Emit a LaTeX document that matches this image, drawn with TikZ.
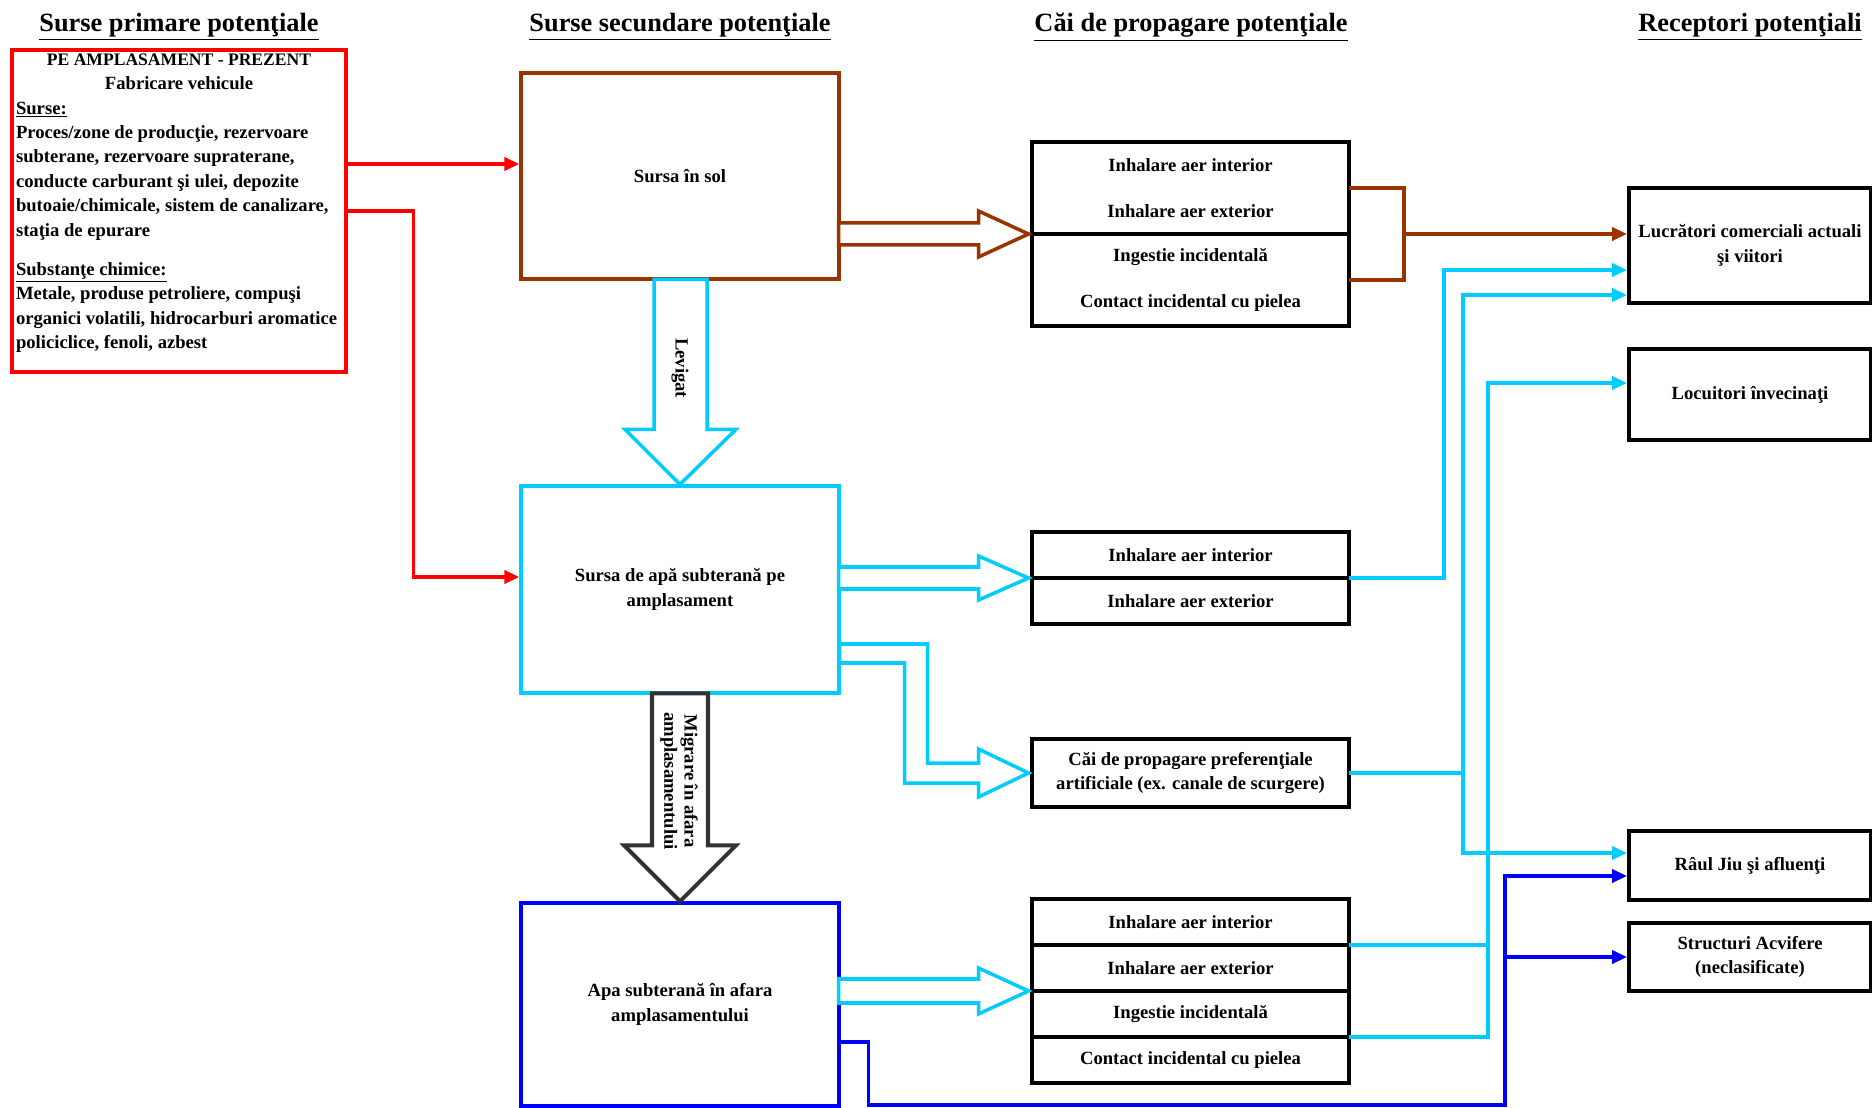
\documentclass[tikz,border=0pt]{standalone}
\usepackage{fontspec}
\setmainfont{Liberation Serif}
\usepackage{xcolor}
\usepackage{tikz}
\usetikzlibrary{arrows.meta,positioning,calc}
\definecolor{brn}{RGB}{153,51,0}
\definecolor{sky}{RGB}{0,204,255}
\definecolor{dgrey}{RGB}{51,51,51}

\begin{document}
\begin{tikzpicture}[
  x=0.02cm, y=-0.02cm,
  every node/.style={font=\fontsize{10.6}{13.9}\selectfont\bfseries},
  colhead/.style={font=\fontsize{15}{18}\selectfont\bfseries},
  srcbox/.style={draw, line width=1.9pt, minimum width=6.36cm, minimum height=4.12cm, align=center},
  pathbox/.style={draw, line width=2.2pt, outer sep=0pt, minimum width=6.34cm, minimum height=0.92cm, align=center, inner sep=1pt},
  recbox/.style={draw, line width=2.2pt, minimum width=4.84cm, align=center, inner sep=1pt},
  conn/.style={line width=2pt},
  conarr/.style={conn, -{Triangle[length=0.3cm, width=0.26cm]}},
  hollow/.style={line width=2pt, fill=white, line join=miter}
]
\useasboundingbox (0,0) rectangle (1872,1108);

% column headings
\node[colhead] (hdprim) at (179,27) {\underline{Surse primare potenţiale}};
\node[colhead] (hdsec) at (680,27) {\underline{Surse secundare potenţiale}};
\node[colhead] (hdcai) at (1191,27) {\underline{Căi de propagare potenţiale}};
\node[colhead] (hdrec) at (1750,27) {\underline{Receptori potenţiali}};

% primary source
\node[draw=red, line width=2pt, inner sep=0pt, minimum width=6.68cm, minimum height=6.44cm] (prim) at (179,211)
  {\parbox[c][6.3cm][t]{6.52cm}{%
    {\centering\fontsize{10}{13.9}\selectfont PE AMPLASAMENT - PREZENT\\
     \fontsize{10.6}{13.9}\selectfont Fabricare vehicule\par}
    \raggedright
    \underline{Surse:}\\
    Proces/zone de producţie, rezervoare\\
    subterane, rezervoare supraterane,\\
    conducte carburant şi ulei, depozite\\
    butoaie/chimicale, sistem de canalizare,\\
    staţia de epurare\\[8.5pt]
    \underline{Substanţe chimice:}\\
    Metale, produse petroliere, compuşi\\
    organici volatili, hidrocarburi aromatice\\
    policiclice, fenoli, azbest}};

% secondary sources
\node[srcbox, draw=brn] (sol) at (680,176) {Sursa în sol};
\node[srcbox, draw=sky, minimum height=4.14cm] (apasit) at (680,589.5) {Sursa de apă subterană pe\\amplasament};
\node[srcbox, draw=blue, minimum height=4.06cm] (apaext) at (680,1004.5) {Apa subterană în afara\\amplasamentului};

% pathways
\node[pathbox, minimum height=1.84cm] (path1a) at (1190.5,188) {Inhalare aer interior\\[12.3pt]Inhalare aer exterior};
\node[pathbox, minimum height=1.84cm, below=0pt of path1a] (path1b) {Ingestie incidentală\\[12.3pt]Contact incidental cu pielea};
\node[pathbox] (path2a) at (1190.5,555) {Inhalare aer interior};
\node[pathbox, below=0pt of path2a] (path2b) {Inhalare aer exterior};
\node[pathbox, minimum height=1.36cm] (path3) at (1190.5,773) {Căi de propagare preferenţiale\\artificiale (ex. canale de scurgere)};
\node[pathbox] (path4a) at (1190.5,922) {Inhalare aer interior};
\node[pathbox, below=0pt of path4a] (path4b) {Inhalare aer exterior};
\node[pathbox, below=0pt of path4b] (path4c) {Ingestie incidentală};
\node[pathbox, below=0pt of path4c] (path4d) {Contact incidental cu pielea};

% receptors
\node[recbox, minimum height=2.3cm] (lucr) at (1750,245.5) {Lucrători comerciali actuali\\şi viitori};
\node[recbox, minimum height=1.82cm] (locu) at (1750,394.5) {Locuitori învecinaţi};
\node[recbox, minimum height=1.38cm] (jiu) at (1750,865.5) {Râul Jiu şi afluenţi};
\node[recbox, minimum height=1.36cm] (acvif) at (1750,957) {Structuri Acvifere\\(neclasificate)};

% hollow arrows
\draw[hollow, draw=brn] ([xshift=-2pt]path1a.south west) -- ++(-50,-23) -- ++(0,12) -- ++(-140,0) -- ++(0,22) -- ++(140,0) -- ++(0,12) -- cycle;
\draw[hollow, draw=sky] ([xshift=-2pt]path2a.south west) -- ++(-50,-22) -- ++(0,11) -- ++(-140,0) -- ++(0,22) -- ++(140,0) -- ++(0,11) -- cycle;
\draw[hollow, draw=sky] ([xshift=-2pt]path4b.south west) -- ++(-50,-23) -- ++(0,11) -- ++(-140,0) -- ++(0,24) -- ++(140,0) -- ++(0,11) -- cycle;
\draw[hollow, draw=sky] ([xshift=-2pt]path3.west) -- ++(-50,-24) -- ++(0,14) -- ++(-51,0) -- ++(0,-119) -- ++(-88,0) -- ++(0,19) -- ++(65,0) -- ++(0,120) -- ++(74,0) -- ++(0,14) -- cycle;
\draw[hollow, draw=sky] (apasit.north) -- ++(-55,-55) -- ++(29,0) -- ++(0,-150) -- ++(53,0) -- ++(0,150) -- ++(29,0) -- cycle;
\draw[hollow, draw=dgrey, line width=2.3pt] (apaext.north) -- ++(-56,-56) -- ++(28,0) -- ++(0,-152) -- ++(56,0) -- ++(0,152) -- ++(28,0) -- cycle;
\node[rotate=-90] (levtxt) at (680,368) {Levigat};
\node[rotate=-90, align=center, font=\fontsize{10.6}{11.5}\selectfont\bfseries] (migtxt) at (679,781) {Migrare în afara\\amplasamentului};

% red links
\coordinate (solin) at ([yshift=0.24cm]sol.west);
\draw[conarr, red] (prim.east |- solin) -- (solin);
\coordinate (apain) at ([yshift=0.25cm]apasit.west);
\draw[conarr, red] (prim.east) -- ++(66,0) |- (apain);

% brown links
\draw[conn, brn] (path1a.east) -- ++(55,0) |- (path1b.east);
\coordinate (brj) at ($(path1a.south east)+(55,0)$);
\draw[conarr, brn] (brj) -- (brj -| lucr.west);

% cyan links
\coordinate (lucrA) at ([yshift=-0.49cm]lucr.west);
\coordinate (lucrB) at ([yshift=-0.99cm]lucr.west);
\coordinate (locuA) at ([yshift=0.23cm]locu.west);
\coordinate (jiuA) at ([yshift=0.25cm]jiu.west);
\coordinate (jiuB) at ([yshift=-0.21cm]jiu.west);
\draw[conarr, sky] (path2a.south east) -- ++(95,0) |- (lucrA);
\draw[conarr, sky] (path3.east) -- ++(114,0) |- (lucrB);
\draw[conarr, sky] (path3.east) ++(114,0) |- (jiuA);
\draw[conn, sky] (path4a.south east) -- ++(139,0);
\draw[conarr, sky] (path4c.south east) -- ++(139,0) |- (locuA);

% blue links
\coordinate (apaout) at ([yshift=-0.75cm]apaext.east);
\coordinate (bluev) at (1505,1105);
\draw[conarr, blue] (apaout) -- ++(28,0) |- (bluev) |- (jiuB);
\draw[conarr, blue] (bluev |- acvif.west) -- (acvif.west);

\end{tikzpicture}
\end{document}
